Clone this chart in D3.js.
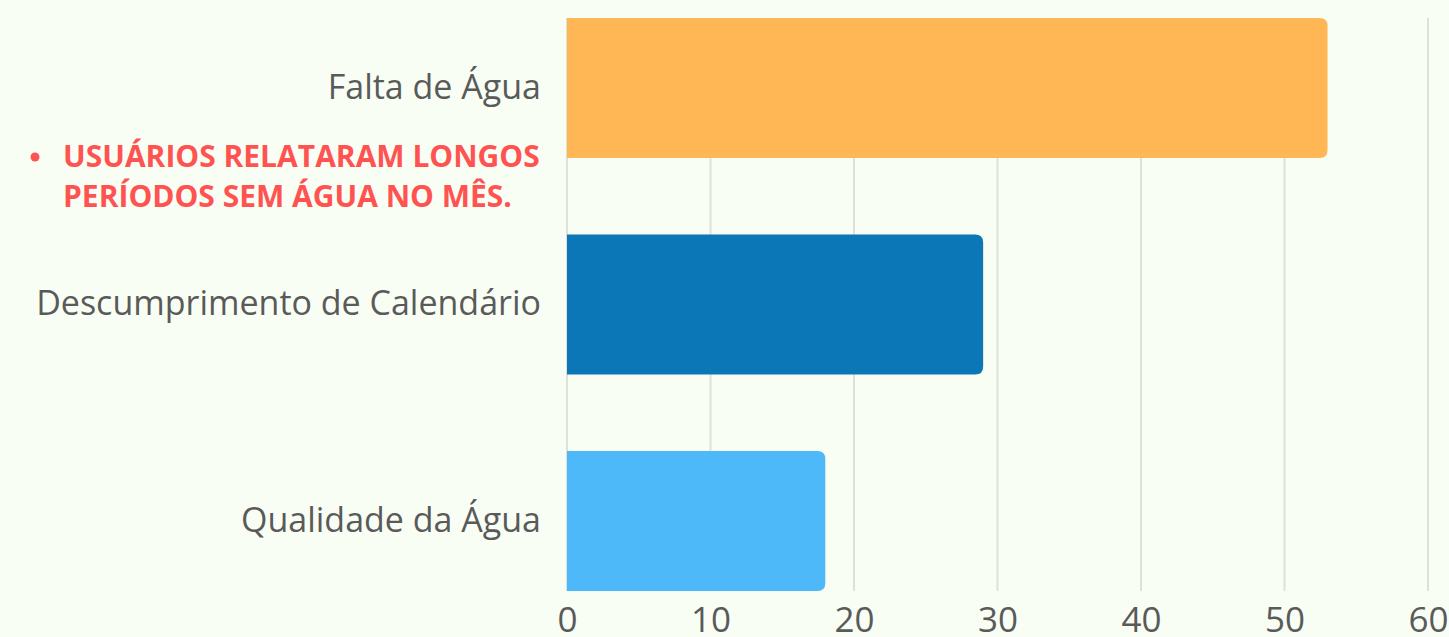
<!DOCTYPE html>
<html>
<head>
<meta charset="utf-8">
<script src="https://cdn.jsdelivr.net/npm/d3@7"></script>
<style>
	html, body { margin: 0; padding: 0; background: #f9fef4; overflow: hidden; }
	svg { display: block; font-family: "Open Sans", sans-serif; }
</style>
</head>
<body>
<div id="chart"></div>
<script>
var categories = ["Falta de Água", "Descumprimento de Calendário", "Qualidade da Água"];
var values = [53, 29, 18];
var colors = ["#ffb755", "#0c77b7", "#4db9f8"];
var ticks = [0, 10, 20, 30, 40, 50, 60];
var noteLines = ["USUÁRIOS RELATARAM LONGOS", "PERÍODOS SEM ÁGUA NO MÊS."];

var width = 1449, height = 637;
var margin = {top: 18, right: 21, bottom: 46, left: 567};
var radius = 8;

var svg = d3.select("#chart").append("svg")
	.attr("width", width)
	.attr("height", height);

var x = d3.scaleLinear()
	.domain([0, 60])
	.range([margin.left, width - margin.right]);

var y = d3.scaleBand()
	.domain(categories)
	.range([margin.top, height - margin.bottom])
	.paddingInner(0.353)
	.paddingOuter(0);

// grid
svg.append("g")
	.selectAll("line")
	.data(ticks)
	.enter().append("line")
		.attr("x1", function(d){ return x(d); })
		.attr("x2", function(d){ return x(d); })
		.attr("y1", margin.top)
		.attr("y2", height - margin.bottom)
		.attr("stroke", "#dfe0da")
		.attr("stroke-width", 2);

// bars, square on the left, rounded on the right
function barPath(d, i){
	var x0 = x(0), x1 = x(d), y0 = y(categories[i]), h = y.bandwidth();
	var r = Math.min(radius, x1 - x0);
	return "M" + x0 + "," + y0 +
		"H" + (x1 - r) +
		"Q" + x1 + "," + y0 + " " + x1 + "," + (y0 + r) +
		"V" + (y0 + h - r) +
		"Q" + x1 + "," + (y0 + h) + " " + (x1 - r) + "," + (y0 + h) +
		"H" + x0 + "Z";
}

svg.append("g")
	.selectAll("path")
	.data(values)
	.enter().append("path")
		.attr("d", barPath)
		.attr("fill", function(d, i){ return colors[i]; });

// x axis labels
var xAxis = svg.append("g")
	.attr("transform", "translate(0," + (height - margin.bottom) + ")")
	.call(d3.axisBottom(x).tickValues(ticks).tickSize(0).tickPadding(16));
xAxis.select(".domain").remove();
xAxis.selectAll("text")
	.attr("font-family", "Open Sans")
	.attr("font-size", 35)
	.attr("fill", "#5a5a5a");

// category labels
var yAxis = svg.append("g")
	.attr("transform", "translate(" + margin.left + ",0)")
	.call(d3.axisLeft(y).tickSize(0).tickPadding(26));
yAxis.select(".domain").remove();
yAxis.selectAll("text")
	.attr("font-family", "Open Sans")
	.attr("font-size", 34)
	.attr("fill", "#5a5a5a");

// annotation
var note = svg.append("g");
note.append("circle")
	.attr("cx", 35)
	.attr("cy", 157)
	.attr("r", 4.5)
	.attr("fill", "#ff5352");
note.selectAll("text")
	.data(noteLines)
	.enter().append("text")
		.attr("x", 63)
		.attr("y", function(d, i){ return 167 + i * 40; })
		.attr("font-size", 30)
		.attr("font-weight", 700)
		.attr("fill", "#ff5352")
		.text(function(d){ return d; });
</script>
</body>
</html>
